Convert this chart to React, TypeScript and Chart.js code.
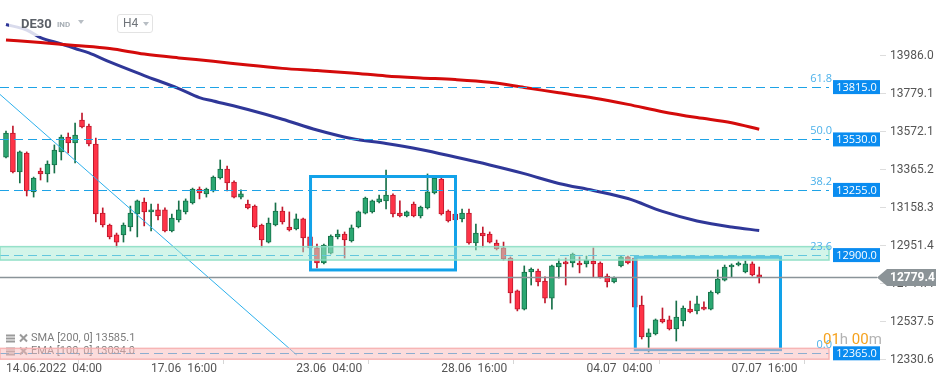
import React, { useEffect, useRef } from 'react';
import { Chart, registerables } from 'chart.js';

Chart.register(...registerables);

// ---- DATA (H4 candles, DE30) ----
const candleOpen = [
  13434, 13565, 13353, 13456, 13244, 13358, 13342, 13391, 13462, 13543,
  13511, 13636, 13603, 13505, 13129, 13064, 13010, 13010, 13053, 13124,
  13189, 13135, 13146, 13146, 13031, 13091, 13135, 13184, 13260, 13233,
  13249, 13320, 13369, 13298, 13216, 13178, 13167, 13064, 12971, 13064,
  13140, 13053, 13042, 13097, 12999, 12939, 12857, 12911, 12999, 13015,
  12977, 13053, 13129, 13135, 13189, 13195, 13227, 13129, 13113, 13178,
  13113, 13157, 13238, 13314, 13140, 13124, 13097, 13129, 12966, 13020,
  13015, 12966, 12939, 12884, 12705, 12606, 12808, 12813, 12759, 12666,
  12835, 12863, 12857, 12857, 12852, 12868, 12857, 12786, 12754, 12841,
  12890, 12884, 12628, 12454, 12470, 12552, 12547, 12498, 12541, 12606,
  12596, 12617, 12606, 12694, 12764, 12835, 12846, 12808, 12852, 12792,
];
const candleHigh = [
  13576, 13603, 13467, 13462, 13325, 13374, 13413, 13500, 13554, 13565,
  13619, 13674, 13614, 13538, 13157, 13069, 13020, 13075, 13167, 13200,
  13211, 13178, 13178, 13157, 13124, 13195, 13206, 13265, 13271, 13265,
  13331, 13418, 13385, 13304, 13255, 13200, 13173, 13069, 13102, 13184,
  13162, 13135, 13124, 13102, 13010, 12960, 12960, 13010, 13037, 13026,
  13064, 13140, 13216, 13200, 13227, 13363, 13233, 13195, 13140, 13189,
  13167, 13342, 13325, 13325, 13146, 13129, 13151, 13151, 13069, 13053,
  13026, 12982, 12971, 12890, 12710, 12841, 12830, 12824, 12781, 12846,
  12879, 12884, 12911, 12890, 12895, 12939, 12863, 12797, 12781, 12895,
  12895, 12890, 12677, 12498, 12552, 12612, 12568, 12650, 12623, 12650,
  12677, 12645, 12705, 12819, 12846, 12852, 12863, 12868, 12863, 12835,
];
const candleLow = [
  13429, 13347, 13293, 13222, 13216, 13309, 13298, 13347, 13418, 13456,
  13402, 13592, 13494, 13080, 13053, 12988, 12944, 12971, 13031, 12999,
  13059, 13031, 13091, 13026, 13026, 13080, 13124, 13178, 13206, 13216,
  13244, 13314, 13249, 13211, 13206, 13151, 13048, 12944, 12966, 13059,
  13069, 13031, 13037, 12917, 12928, 12830, 12852, 12906, 12988, 12884,
  12971, 13048, 13124, 13129, 13184, 13151, 13108, 13108, 13108, 13108,
  13102, 13151, 13233, 13118, 13080, 13086, 13080, 12960, 12928, 12944,
  12966, 12928, 12873, 12639, 12596, 12601, 12737, 12732, 12639, 12606,
  12775, 12737, 12835, 12803, 12835, 12781, 12775, 12726, 12748, 12835,
  12852, 12601, 12443, 12372, 12465, 12530, 12492, 12432, 12514, 12585,
  12579, 12601, 12601, 12688, 12759, 12781, 12841, 12803, 12786, 12748,
];
const candleClose = [
  13565, 13353, 13462, 13249, 13320, 13342, 13396, 13472, 13543, 13511,
  13554, 13598, 13505, 13124, 13064, 12999, 12971, 13064, 13129, 13195,
  13135, 13146, 13113, 13031, 13102, 13146, 13195, 13260, 13238, 13260,
  13325, 13369, 13293, 13216, 13233, 13157, 13053, 12982, 13075, 13140,
  13080, 13037, 13097, 12993, 12939, 12857, 12955, 13004, 13015, 12982,
  13048, 13135, 13211, 13195, 13206, 13227, 13124, 13113, 13135, 13113,
  13162, 13244, 13320, 13124, 13086, 13091, 13129, 12966, 13020, 13004,
  12971, 12933, 12879, 12694, 12606, 12808, 12824, 12754, 12666, 12841,
  12857, 12852, 12906, 12846, 12873, 12852, 12781, 12754, 12775, 12890,
  12857, 12617, 12454, 12476, 12547, 12536, 12498, 12563, 12612, 12590,
  12634, 12606, 12699, 12770, 12835, 12846, 12857, 12852, 12792, 12779.4,
];

const xTickIndex = [0, 21, 42, 63, 84, 105];
const xTickLabels = ['14.06.2022  04:00', '17.06  16:00', '23.06  04:00', '28.06  16:00', '04.07  04:00', '07.07  16:00'];
const yTickValues = [12330.6, 12537.5, 12744.4, 12951.4, 13158.3, 13365.2, 13572.1, 13779.1, 13986.0];

const smaIndex = [0, 5, 10, 15, 20, 25, 30, 35, 40, 45, 50, 55, 60, 65, 70, 75, 80, 85, 90, 95, 100, 105, 109];
const smaValues = [14072, 14058, 14042, 14025, 13995, 13974, 13956, 13935, 13917, 13905, 13892, 13876, 13865, 13856, 13841, 13813, 13784, 13756, 13721, 13681, 13649, 13621, 13585.1];
const emaIndex = [0, 3, 5, 8, 10, 12, 15, 20, 25, 28, 30, 35, 40, 45, 50, 55, 60, 65, 70, 75, 80, 85, 90, 95, 100, 105, 109];
const emaValues = [14156, 14126, 14085, 14050, 14025, 14001, 13952, 13878, 13807, 13758, 13739, 13693, 13640, 13581, 13535, 13508, 13475, 13434, 13391, 13344, 13290, 13252, 13208, 13138, 13086, 13053, 13034.0];

const trendIndex = [-0.87, 42.07];
const trendValues = [13775, 12356];

const fibRatios = ['61.8', '50.0', '38.2', '23.6', '0.0'];
const fibPrices = [13815, 13530, 13255, 12900, 12365];
const supportZone = [12873, 12946];
const bottomZone = [12333, 12392];
const boxStartIndex = [44.07, 91.07];
const boxEndIndex = [65.05, 112.08];
const boxTop = [13328, 12888];
const boxBottom = [12819, 12385];
const lastPrice = 12779.4;
const legendLines = ['SMA [200, 0] 13585.1', 'EMA [100, 0] 13034.0'];

const X_MIN = -0.868;
const X_MAX = 126.48;
const Y_MIN = 12328.6;
const Y_MAX = 14289.4;

const UP_FILL = '#2ba772';
const UP_LINE = '#177049';
const DN_FILL = '#ff3347';
const DN_LINE = '#c0182c';

export default function App() {
  const ref = useRef<HTMLCanvasElement | null>(null);

  useEffect(() => {
    if (!ref.current) return;
    const idx = candleOpen.map((_, i) => i);
    const isUp = idx.map((i) => candleClose[i] >= candleOpen[i]);

    const overlay = {
      id: 'overlay',
      afterDraw(chart: any) {
        const { ctx, chartArea } = chart;
        const xs = chart.scales.x;
        const ys = chart.scales.y;
        const endX = chartArea.right - 51;
        ctx.save();
        // rectangles
        ctx.strokeStyle = '#12a2e9';
        ctx.lineWidth = 3;
        boxStartIndex.forEach((b, i) => {
          const x0 = xs.getPixelForValue(b);
          const x1 = xs.getPixelForValue(boxEndIndex[i]);
          const y0 = ys.getPixelForValue(boxTop[i]);
          const y1 = ys.getPixelForValue(boxBottom[i]);
          ctx.strokeRect(x0, y0, x1 - x0, y1 - y0);
        });
        // fib dashed lines
        ctx.lineWidth = 1;
        ctx.strokeStyle = '#1ea3e6';
        ctx.setLineDash([9, 5]);
        fibPrices.forEach((p) => {
          const py = Math.round(ys.getPixelForValue(p)) + 0.5;
          ctx.beginPath();
          ctx.moveTo(chartArea.left, py);
          ctx.lineTo(endX, py);
          ctx.stroke();
        });
        ctx.setLineDash([]);
        // indicator legend
        ctx.font = '11px Roboto';
        ctx.textBaseline = 'middle';
        ctx.textAlign = 'left';
        legendLines.forEach((t, i) => {
          const ly = 338.5 + i * 13;
          ctx.fillStyle = '#9a9a9a';
          ctx.fillRect(6, ly - 4, 9, 2);
          ctx.fillRect(6, ly - 1, 9, 2);
          ctx.fillRect(6, ly + 2, 9, 2);
          ctx.strokeStyle = '#9a9a9a';
          ctx.lineWidth = 2;
          ctx.beginPath();
          ctx.moveTo(20, ly - 4); ctx.lineTo(27, ly + 3);
          ctx.moveTo(27, ly - 4); ctx.lineTo(20, ly + 3);
          ctx.stroke();
          ctx.fillStyle = '#7d7d7d';
          ctx.fillText(t, 31, ly);
        });
        // zones
        const zone = (z: number[], fill: string, edge: string) => {
          const y0 = ys.getPixelForValue(z[1]);
          const y1 = ys.getPixelForValue(z[0]);
          ctx.fillStyle = fill;
          ctx.fillRect(chartArea.left, y0, endX - chartArea.left, y1 - y0);
          ctx.strokeStyle = edge;
          ctx.lineWidth = 1.5;
          ctx.strokeRect(chartArea.left, y0, endX - chartArea.left, y1 - y0);
        };
        zone(supportZone, 'rgba(168,236,212,0.5)', 'rgba(140,222,196,0.9)');
        zone(bottomZone, 'rgba(250,186,186,0.5)', 'rgba(246,176,176,0.9)');
        // fib labels & boxes
        fibPrices.forEach((p, i) => {
          const py = ys.getPixelForValue(p);
          ctx.font = '11px "Open Sans"';
          ctx.textAlign = 'right';
          ctx.fillStyle = '#4cb1ea';
          ctx.fillText(fibRatios[i], endX + 3, py - 8.5);
          ctx.fillStyle = '#0a8cf0';
          ctx.fillRect(endX + 4, py - 7, chartArea.right - endX - 4, 14);
          ctx.fillStyle = '#ffffff';
          ctx.textAlign = 'center';
          ctx.fillText(p.toFixed(1), (endX + 4 + chartArea.right) / 2, py + 0.5);
        });
        // last price line
        const lp = Math.round(ys.getPixelForValue(lastPrice)) + 0.5;
        ctx.strokeStyle = '#8a9499';
        ctx.lineWidth = 1.3;
        ctx.beginPath();
        ctx.moveTo(chartArea.left, lp);
        ctx.lineTo(chartArea.right - 3, lp);
        ctx.stroke();
        // price tag
        ctx.fillStyle = '#8b9397';
        ctx.beginPath();
        ctx.moveTo(chartArea.right - 3, lp);
        ctx.lineTo(chartArea.right + 7, lp - 8.5);
        ctx.lineTo(chartArea.right + 56, lp - 8.5);
        ctx.lineTo(chartArea.right + 56, lp + 8.5);
        ctx.lineTo(chartArea.right + 7, lp + 8.5);
        ctx.closePath();
        ctx.fill();
        ctx.fillStyle = '#ffffff';
        ctx.font = 'bold 12px Roboto';
        ctx.textAlign = 'left';
        ctx.fillText(lastPrice.toFixed(1), chartArea.right + 10, lp + 0.5);
        // countdown
        ctx.font = '15px Roboto';
        let cx = 823;
        const parts: [string, string][] = [['01', '#f5a21e'], ['h ', '#b3b3b3'], ['00', '#f5a21e'], ['m', '#b3b3b3']];
        parts.forEach(([t, c]) => {
          ctx.fillStyle = c;
          ctx.fillText(t, cx, 340);
          cx += ctx.measureText(t).width;
        });
        ctx.restore();
      },
    };

    const chart = new Chart(ref.current, {
      type: 'bar',
      data: {
        datasets: [
          {
            type: 'bar',
            label: 'body',
            data: idx.map((i) => ({ x: i, y: [candleOpen[i], candleClose[i]] })) as any,
            backgroundColor: idx.map((i) => (isUp[i] ? UP_FILL : DN_FILL)),
            borderColor: idx.map((i) => (isUp[i] ? UP_LINE : DN_LINE)),
            borderWidth: 1,
            borderSkipped: false,
            barThickness: 5,
            grouped: false,
            order: 1,
          },
          {
            type: 'bar',
            label: 'wick',
            data: idx.map((i) => ({ x: i, y: [candleLow[i], candleHigh[i]] })) as any,
            backgroundColor: idx.map((i) => (isUp[i] ? UP_LINE : DN_LINE)),
            borderWidth: 0,
            barThickness: 1,
            grouped: false,
            order: 2,
          },
          {
            type: 'line',
            label: 'SMA',
            data: smaIndex.map((v, i) => ({ x: v, y: smaValues[i] })),
            borderColor: '#d40b0b',
            borderWidth: 3,
            pointRadius: 0,
            cubicInterpolationMode: 'monotone',
            order: 0,
          },
          {
            type: 'line',
            label: 'EMA',
            data: emaIndex.map((v, i) => ({ x: v, y: emaValues[i] })),
            borderColor: '#2f3798',
            borderWidth: 3,
            pointRadius: 0,
            cubicInterpolationMode: 'monotone',
            order: 0,
          },
          {
            type: 'line',
            label: 'trend',
            data: trendIndex.map((v, i) => ({ x: v, y: trendValues[i] })),
            borderColor: '#2cb0ec',
            borderWidth: 1,
            pointRadius: 0,
            order: 0,
          },
        ] as any,
      },
      options: {
        responsive: false,
        animation: false,
        events: [],
        layout: { padding: 0, autoPadding: false },
        plugins: { legend: { display: false }, tooltip: { enabled: false } },
        scales: {
          x: {
            type: 'linear',
            min: X_MIN,
            max: X_MAX,
            offset: false,
            border: { display: false },
            grid: { drawOnChartArea: false, drawTicks: true, tickLength: 4, tickColor: '#d6d6d6' },
            afterBuildTicks: (s: any) => {
              s.ticks = xTickIndex.map((v) => ({ value: v }));
            },
            afterFit: (s: any) => {
              s.height = 25;
              s.paddingLeft = 0;
              s.paddingRight = 0;
            },
            ticks: {
              autoSkip: false,
              maxRotation: 0,
              align: 'start',
              padding: -2,
              color: '#555',
              font: { family: 'Roboto', size: 12 },
              callback: (v: any) => {
                const k = xTickIndex.indexOf(Number(v));
                return k >= 0 ? xTickLabels[k] : '';
              },
            },
          },
          y: {
            type: 'linear',
            position: 'right',
            min: Y_MIN,
            max: Y_MAX,
            border: { display: false },
            grid: { drawOnChartArea: false, drawTicks: true, tickLength: 6, tickColor: '#dddddd' },
            afterBuildTicks: (s: any) => {
              s.ticks = yTickValues.map((v) => ({ value: v }));
            },
            afterFit: (s: any) => {
              s.width = 69;
              s.paddingTop = 0;
              s.paddingBottom = 0;
            },
            ticks: {
              padding: 4,
              color: '#555',
              font: { family: 'Roboto', size: 12 },
              callback: (v: any) => Number(v).toFixed(1),
            },
          },
        },
      } as any,
      plugins: [overlay],
    });
    return () => chart.destroy();
  }, []);

  return (
    <div style={{ position: 'fixed', left: 0, top: 0, width: 949, height: 385, background: '#fff', overflow: 'hidden' }}>
      <canvas ref={ref} width={949} height={385} style={{ display: 'block' }} />
      <div style={{ position: 'absolute', left: 9, top: 13, width: 82, height: 23, background: 'rgba(255,255,255,0.82)' }} />
      <div style={{ position: 'absolute', left: 21, top: 16, fontFamily: 'Roboto', fontWeight: 700, fontSize: 13, color: '#5a5f66', lineHeight: '16px' }}>DE30</div>
      <div style={{ position: 'absolute', left: 57, top: 19, fontFamily: 'Roboto', fontWeight: 700, fontSize: 8, color: '#a7aeb5', lineHeight: '12px' }}>IND</div>
      <div style={{ position: 'absolute', left: 78, top: 20, width: 0, height: 0, borderLeft: '3.5px solid transparent', borderRight: '3.5px solid transparent', borderTop: '4px solid #b8bec4' }} />
      <div style={{ position: 'absolute', left: 117, top: 14, width: 34, height: 17, border: '1px solid #e3e3e3', borderRadius: 3, background: '#fff' }}>
        <span style={{ position: 'absolute', left: 5, top: 1, fontFamily: 'Roboto', fontSize: 12, color: '#6f747a', lineHeight: '15px' }}>H4</span>
        <span style={{ position: 'absolute', left: 25, top: 7, width: 0, height: 0, borderLeft: '3.5px solid transparent', borderRight: '3.5px solid transparent', borderTop: '4px solid #b8bec4' }} />
      </div>
    </div>
  );
}
